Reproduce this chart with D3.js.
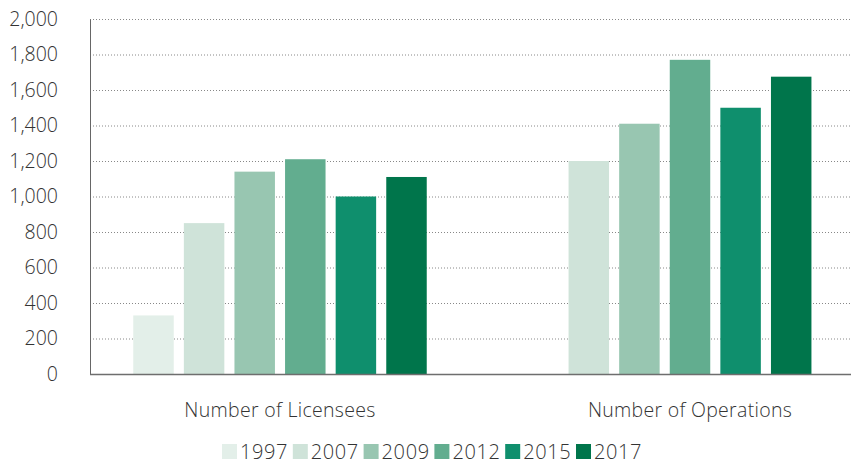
<!doctype html>
<html>
<head>
    <script src="https://cdnjs.cloudflare.com/ajax/libs/d3/7.8.5/d3.min.js"></script>
    <style>
        body { margin: 0; background: #fff; }
        svg { display: block; }
        text { font-family: "Open Sans", Roboto, sans-serif; font-weight: 300; fill: #333; }
    </style>
</head>
<body>
    <svg width="851" height="464"></svg>
    <script>
        // data
        var categories = ["Number of Licensees", "Number of Operations"];
        var years = ["1997", "2007", "2009", "2012", "2015", "2017"];
        var licensees = [330, 850, 1140, 1210, 1000, 1110];
        var operations = [null, 1200, 1410, 1770, 1500, 1675];
        var yTicks = [0, 200, 400, 600, 800, 1000, 1200, 1400, 1600, 1800, 2000];
        var colors = ["#e3efe9", "#cfe3d9", "#98c6b1", "#62ad8f", "#0f8f6d", "#00754b"];

        var series = [licensees, operations];

        var svg = d3.select("svg");
        var plotLeft = 90, plotRight = 851, plotTop = 19, plotBottom = 374;

        var y = d3.scaleLinear().domain([0, 2000]).range([plotBottom, plotTop]);
        var x0 = d3.scaleBand().domain(categories).range([75, 895]);
        var color = d3.scaleOrdinal().domain(years).range(colors);
        var step = 50.6;

        // gridlines
        svg.append("g").selectAll("line")
            .data(yTicks.filter(function (d) { return d > 0; }))
            .enter().append("line")
            .attr("x1", plotLeft).attr("x2", plotRight)
            .attr("y1", function (d) { return y(d) + 0.5; })
            .attr("y2", function (d) { return y(d) + 0.5; })
            .attr("stroke", "#888")
            .attr("stroke-width", 1)
            .attr("stroke-dasharray", "1,2");

        // bars
        categories.forEach(function (cat, i) {
            var rows = years.map(function (yr, j) { return { year: yr, value: series[i][j] }; })
                .filter(function (d) { return d.value != null; });
            var cx = x0(cat) + x0.bandwidth() / 2;
            var w = rows.length * step;
            var x1 = d3.scaleBand().domain(rows.map(function (d) { return d.year; }))
                .range([cx - w / 2, cx + w / 2]).paddingInner(0.2).paddingOuter(0.1);

            svg.append("g").selectAll("rect")
                .data(rows)
                .enter().append("rect")
                .attr("x", function (d) { return x1(d.year); })
                .attr("y", function (d) { return y(d.value); })
                .attr("width", x1.bandwidth())
                .attr("height", function (d) { return plotBottom - y(d.value); })
                .attr("fill", function (d) { return color(d.year); });

            svg.append("text")
                .attr("x", cx)
                .attr("y", 417)
                .attr("text-anchor", "middle")
                .style("font-size", "19.5px")
                .style("letter-spacing", "0.3px")
                .text(cat);
        });

        // y axis
        var yAxis = svg.append("g")
            .attr("transform", "translate(" + plotLeft + ",0)")
            .call(d3.axisLeft(y).tickValues(yTicks).tickSize(0).tickPadding(32).tickFormat(d3.format(",")));
        yAxis.select(".domain").attr("stroke", "#666").attr("stroke-width", 1);
        yAxis.selectAll("text").style("font-size", "19.5px").attr("fill", "#333");

        // baseline
        svg.append("line")
            .attr("x1", plotLeft).attr("x2", plotRight)
            .attr("y1", plotBottom + 0.5).attr("y2", plotBottom + 0.5)
            .attr("stroke", "#6e6e6e").attr("stroke-width", 1.5);

        // legend
        var legend = svg.append("g").selectAll("g")
            .data(years)
            .enter().append("g")
            .attr("transform", function (d, i) { return "translate(" + (222 + i * 70.8) + ",444)"; });
        legend.append("rect")
            .attr("width", 15).attr("height", 15)
            .attr("fill", function (d) { return color(d); });
        legend.append("text")
            .attr("x", 18).attr("y", 15)
            .style("font-size", "20px")
            .style("letter-spacing", "0.6px")
            .text(function (d) { return d; });
    </script>
</body>
</html>
